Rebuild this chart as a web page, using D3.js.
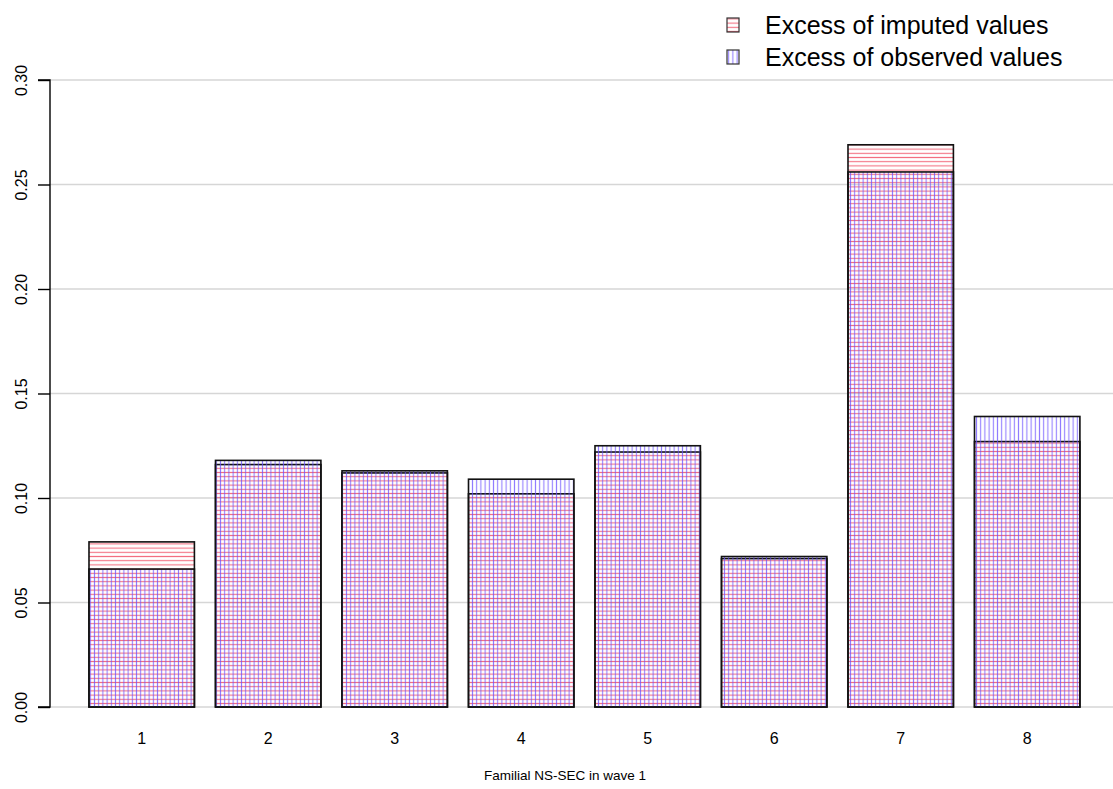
<!DOCTYPE html>
<html>
<head>
<meta charset="utf-8">
<script src="https://cdn.jsdelivr.net/npm/d3@7"></script>
<style>
  body { margin: 0; background: #fff; }
  text { font-family: "Liberation Sans", Arial, Helvetica, sans-serif; fill: #000; }
</style>
</head>
<body>
<script>
// data
const categories = ["1", "2", "3", "4", "5", "6", "7", "8"];
const imputed  = [0.079, 0.116, 0.112, 0.102, 0.122, 0.071, 0.269, 0.127];
const observed = [0.066, 0.118, 0.113, 0.109, 0.125, 0.072, 0.256, 0.139];
const yTicks = [0, 0.05, 0.10, 0.15, 0.20, 0.25, 0.30];
const legendLabels = ["Excess of imputed values", "Excess of observed values"];

const W = 1113, H = 789;
const plot = {left: 50, right: 1113, top: 80, bottom: 707};

const svg = d3.select("body").append("svg")
    .attr("width", W)
    .attr("height", H);

// hatch patterns
const defs = svg.append("defs");
const sp = 4.2;
defs.append("pattern")
    .attr("id", "hRed")
    .attr("patternUnits", "userSpaceOnUse")
    .attr("width", sp).attr("height", sp)
  .append("line")
    .attr("x1", 0).attr("x2", sp)
    .attr("y1", sp / 2).attr("y2", sp / 2)
    .attr("stroke", "#f04a60")
    .attr("stroke-opacity", 0.8)
    .attr("stroke-width", 1.1);
defs.append("pattern")
    .attr("id", "vBlue")
    .attr("patternUnits", "userSpaceOnUse")
    .attr("width", sp).attr("height", sp)
  .append("line")
    .attr("y1", 0).attr("y2", sp)
    .attr("x1", sp / 2).attr("x2", sp / 2)
    .attr("stroke", "#6a50ff")
    .attr("stroke-opacity", 0.75)
    .attr("stroke-width", 1.1);

const y = d3.scaleLinear()
    .domain([0, 0.3])
    .range([plot.bottom, plot.top]);

const x = d3.scaleBand()
    .domain(categories)
    .range([78.45, 1090.45])
    .paddingInner(1 / 6)
    .paddingOuter(1 / 12);

// grid lines
svg.append("g")
  .selectAll("line")
  .data(yTicks)
  .join("line")
    .attr("x1", plot.left).attr("x2", plot.right)
    .attr("y1", d => y(d)).attr("y2", d => y(d))
    .attr("stroke", "#d6d6d6")
    .attr("stroke-width", 1.6);

// y axis
const yAxis = svg.append("g")
    .attr("transform", `translate(${plot.left},0)`)
    .call(d3.axisLeft(y).tickValues(yTicks).tickSize(12).tickFormat(d3.format(".2f")));
yAxis.attr("font-size", null).attr("font-family", null);
yAxis.select(".domain").attr("stroke", "#000").attr("stroke-width", 1.4)
    .attr("d", `M-12,${y(0.3)}H0V${y(0)}H-12`);
yAxis.selectAll(".tick line").attr("stroke", "#000").attr("stroke-width", 1.4);
yAxis.selectAll(".tick text")
    .attr("x", null).attr("dy", null)
    .attr("transform", "translate(-23.5,0) rotate(-90)")
    .attr("text-anchor", "middle")
    .style("font-size", "16px");

// bars: imputed (horizontal red hatching), observed (vertical blue hatching)
svg.append("g")
  .selectAll("rect")
  .data(imputed)
  .join("rect")
    .attr("x", (d, i) => x(categories[i]))
    .attr("y", d => y(d))
    .attr("width", x.bandwidth())
    .attr("height", d => y(0) - y(d))
    .attr("fill", "url(#hRed)")
    .attr("stroke", "#111")
    .attr("stroke-width", 1.6);

svg.append("g")
  .selectAll("rect")
  .data(observed)
  .join("rect")
    .attr("x", (d, i) => x(categories[i]))
    .attr("y", d => y(d))
    .attr("width", x.bandwidth())
    .attr("height", d => y(0) - y(d))
    .attr("fill", "url(#vBlue)")
    .attr("stroke", "#111")
    .attr("stroke-width", 1.6);

// x labels
svg.append("g")
  .selectAll("text")
  .data(categories)
  .join("text")
    .attr("x", d => x(d) + x.bandwidth() / 2)
    .attr("y", 744)
    .attr("text-anchor", "middle")
    .style("font-size", "16px")
    .text(d => d);

svg.append("text")
    .attr("x", 565)
    .attr("y", 780)
    .attr("text-anchor", "middle")
    .style("font-size", "13.5px")
    .text("Familial NS-SEC in wave 1");

// legend
const legend = svg.append("g");
const fills = ["url(#hRed)", "url(#vBlue)"];
legendLabels.forEach((lab, i) => {
  const ly = 25 + i * 32;
  legend.append("rect")
      .attr("x", 727).attr("y", ly - 7)
      .attr("width", 12).attr("height", 14)
      .attr("fill", fills[i])
      .attr("stroke", "#333")
      .attr("stroke-width", 1.2);
  legend.append("text")
      .attr("x", 765).attr("y", ly + 8.5)
      .style("font-size", "25px")
      .text(lab);
});
</script>
</body>
</html>
